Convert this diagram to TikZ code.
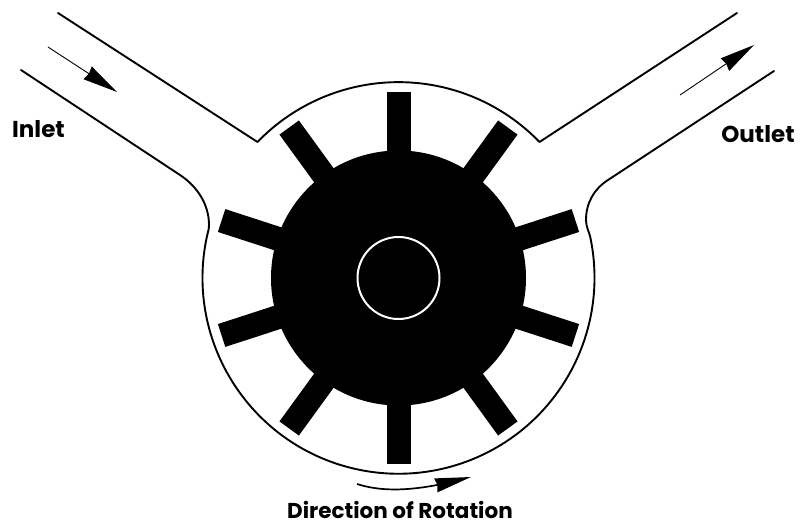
\documentclass[tikz,border=0pt]{standalone}
\usepackage{fontspec}
\setmainfont{Poppins}
\usetikzlibrary{arrows.meta, bending, calc}
\begin{document}
\begin{tikzpicture}[
		x=1pt, y=1pt,
		wall/.style={line width=1.9pt, line join=round, line cap=round},
		flow/.style={line width=0.9pt, -{Stealth[length=35pt, width=15pt, inset=1.5pt]}},
		vane/.style={fill=black, minimum width=62pt, minimum height=24pt, inner sep=0pt},
		lbl/.style={font=\fontsize{23}{28}\selectfont\bfseries, inner sep=0pt, anchor=base},
		lblsmall/.style={lbl, font=\fontsize{21.5}{26}\selectfont\bfseries}
	]
	\useasboundingbox (0,0) rectangle (803,523);

	% 壳体
	\coordinate (c) at (398.5,245);
	\coordinate (intop) at (58,510);
	\coordinate (inlow) at (21,453);
	\coordinate (outtop) at (737,510);
	\coordinate (outlow) at (774,452);
	\draw[wall] (intop) -- (257.5,381) arc (136:44:196) -- (outtop);
	\draw[wall] (inlow) -- (180,348) .. controls (198,336) and (209,318) .. (209,298)
		.. controls (209,293) and (207.5,290) .. (206.8,286)
		arc (168:372:196) .. controls (589.5,290) and (586,296) .. (586,303)
		.. controls (586,320) and (594,334) .. (608,343) -- (outlow);

	% 转子与叶片
	\foreach \a in {18,54,...,342}
		\node[vane, rotate=\a] (vane\a) at ($(c)+(\a:155)$) {};
	\node[circle, fill=black, minimum size=255pt, inner sep=0pt] (rotor) at (c) {};
	\node[circle, draw=white, line width=2pt, fill=black, minimum size=82pt, inner sep=0pt] (hub) at (c) {};

	% 流向
	\coordinate (ina) at (48,476);
	\coordinate (inb) at (117,431);
	\coordinate (outa) at (680,428);
	\coordinate (outb) at (754,478);
	\draw[flow] (ina) -- (inb);
	\draw[flow] (outa) -- (outb);
	\coordinate (rota) at (357,39);
	\coordinate (rotb) at (471,46);
	\draw[line width=1.7pt, -{Stealth[length=36pt, width=14pt, inset=1.5pt, flex]}]
		(rota) .. controls (385,30) and (420,32) .. (rotb);

	% 文字
	\node[lbl] (inlet) at (38.5,385) {Inlet};
	\node[lbl] (outlet) at (758,380) {Outlet};
	\node[lblsmall] (rotation) at (400,5) {Direction of Rotation};
\end{tikzpicture}
\end{document}
